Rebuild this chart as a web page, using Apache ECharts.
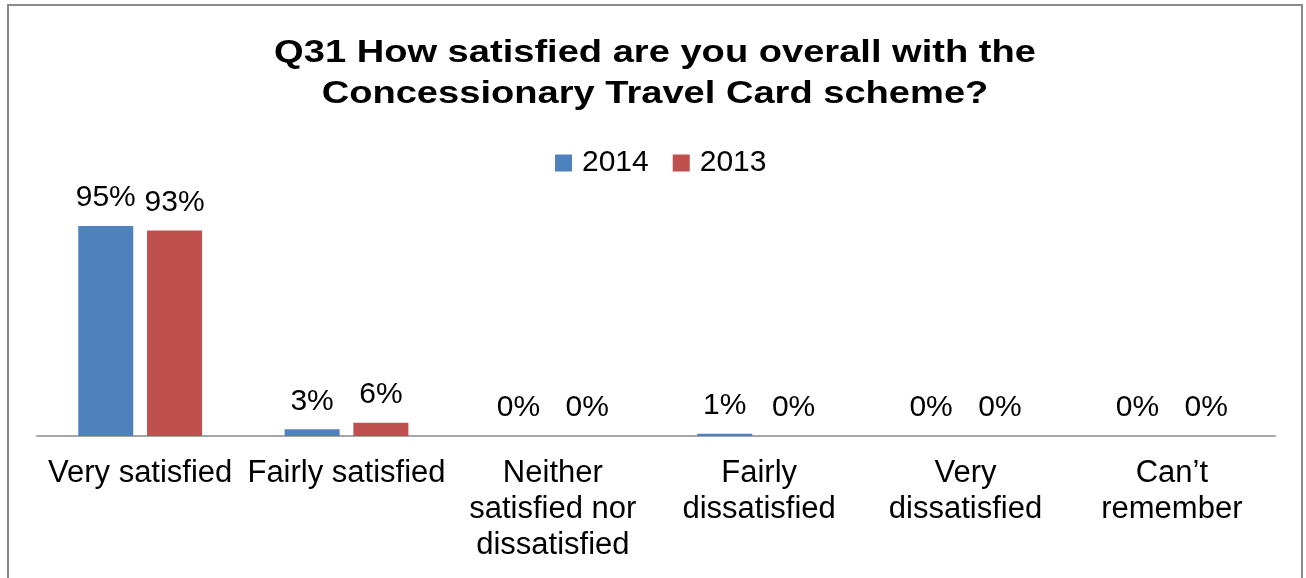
<!DOCTYPE html>
<html>
<head>
<meta charset="utf-8">
<script src="https://cdn.jsdelivr.net/npm/echarts@6/dist/echarts.min.js"></script>
<style>
  html, body { margin: 0; padding: 0; background: #ffffff; }
  #chart { width: 1306px; height: 578px; }
</style>
</head>
<body>
<div id="chart"></div>
<script>
// Survey answers to Q31, percentage of respondents per answer
const categories = [
  'Very satisfied',
  'Fairly satisfied',
  'Neither\nsatisfied nor\ndissatisfied',
  'Fairly\ndissatisfied',
  'Very\ndissatisfied',
  'Can\u2019t\nremember'
];
const values2014 = [95, 3, 0, 1, 0, 0];
const values2013 = [93, 6, 0, 0, 0, 0];
const seriesNames = ['2014', '2013'];
const titleText = 'Q31 How satisfied are you overall with the\nConcessionary Travel Card scheme?';

const FONT = 'Liberation Sans, Arial, sans-serif';

const chart = echarts.init(document.getElementById('chart'), null, { renderer: 'canvas' });

const labelStyle = {
  show: true,
  position: 'top',
  distance: 13,
  formatter: p => p.value + '%',
  color: '#000000',
  fontFamily: FONT,
  fontSize: 30
};

chart.setOption({
  backgroundColor: '#ffffff',
  animation: false,
  graphic: [
    {
      // chart frame
      type: 'rect',
      shape: { x: 8, y: 5, width: 1294, height: 600 },
      style: { fill: 'none', stroke: '#8a8a8a', lineWidth: 2 },
      silent: true
    },
    {
      // chart title, set in a wide bold face
      type: 'text',
      x: 655,
      y: 33,
      scaleX: 1.19,
      style: {
        text: titleText,
        textAlign: 'center',
        textVerticalAlign: 'top',
        fontFamily: FONT,
        fontWeight: 'bold',
        fontSize: 32,
        lineHeight: 41,
        fill: '#000000'
      },
      silent: true
    }
  ],
  legend: {
    data: seriesNames,
    top: 143,
    left: 550,
    itemWidth: 17,
    itemHeight: 17,
    itemGap: 24,
    icon: 'rect',
    textStyle: { fontFamily: FONT, fontSize: 30, color: '#000000', padding: [0, 0, 0, 5] }
  },
  grid: { left: 37, right: 31, top: 215, bottom: 142, containLabel: false },
  xAxis: {
    type: 'category',
    data: categories,
    axisLine: { lineStyle: { color: '#a6a6a6', width: 2 } },
    axisTick: { show: false },
    axisLabel: {
      interval: 0,
      margin: 19,
      fontFamily: FONT,
      fontSize: 31,
      lineHeight: 36,
      color: '#000000',
      align: 'center'
    }
  },
  yAxis: {
    type: 'value',
    min: 0,
    max: 100,
    show: false,
    splitLine: { show: false }
  },
  series: [
    {
      name: seriesNames[0],
      type: 'bar',
      data: values2014,
      barGap: '25%',
      barCategoryGap: '40%',
      itemStyle: { color: '#4f81bd' },
      label: labelStyle
    },
    {
      name: seriesNames[1],
      type: 'bar',
      data: values2013,
      itemStyle: { color: '#c0504d' },
      label: labelStyle
    }
  ]
});
</script>
</body>
</html>
